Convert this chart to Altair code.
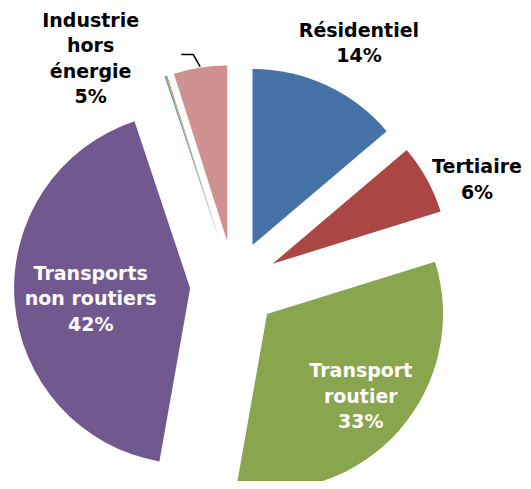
import math
import altair as alt
import pandas as pd

# ---- data ----
categories = ["Résidentiel", "Tertiaire", "Transport routier", "Transports non routiers",
              "Autre A", "Autre B", "Industrie hors énergie"]
values = [13.8, 6.4, 32.6, 42.1, 0.12, 0.10, 4.9]
labels = ["Résidentiel\n14%", "Tertiaire\n6%", "Transport\nroutier\n33%",
          "Transports\nnon routiers\n42%", "", "", "Industrie\nhors\nénergie\n5%"]
colors = ["#4572A7", "#AA4643", "#89A54E", "#71588F", "#3D96AE", "#DB843D", "#D09290"]

# ---- style ----
label_colors = ["black", "black", "white", "white", "black", "black", "black"]
label_radius = [228, 221, 125, 100, 0, 0, 228]
label_shift_deg = [3, 6.5, 0, -2, 0, 0, -28]
W, H = 515, 473
CX, CY = 226, 277      # pie centre inside the plot area (pixels)
EXPLODE = 44
R = 176
LH = 25.5

total = sum(values)
rows = []
cum = 0.0
for cat, v, lab, lc, lr, ls in zip(categories, values, labels, label_colors,
                                    label_radius, label_shift_deg):
    start, end = cum, cum + v
    cum = end
    mid = (start + end) / 2 / total * 2 * math.pi
    ax = EXPLODE * math.sin(mid)
    ay = EXPLODE * math.cos(mid)
    la = mid + math.radians(ls)
    n = lab.count("\n") + 1
    rows.append(dict(category=cat, value=v, start=start, end=end, ax=ax, ay=ay,
                     lx=ax + lr * math.sin(la),
                     ly=ay + lr * math.cos(la) + (n - 1) * LH / 2,
                     label=lab, tcolor=lc, mid=mid))
df = pd.DataFrame(rows)

# leader line drawn to the "Industrie hors énergie" slice
p = df[df.category == "Industrie hors énergie"].iloc[0]
e1 = (p.ax + (R + 1) * math.sin(p.mid), p.ay + (R + 1) * math.cos(p.mid))
e2 = (p.ax + (R + 14) * math.sin(p.mid - math.radians(1.5)),
      p.ay + (R + 14) * math.cos(p.mid - math.radians(1.5)))
e3 = (e2[0] - 12, e2[1])
leader = pd.DataFrame({"x": [e1[0], e2[0], e3[0]], "y": [e1[1], e2[1], e3[1]], "o": [0, 1, 2]})

xs = alt.Scale(domain=[-CX, W - CX], nice=False, zero=False)
ys = alt.Scale(domain=[-(H - CY), CY], nice=False, zero=False)

arcs = alt.Chart(df).mark_arc(radius=R).encode(
    x=alt.X("ax:Q", scale=xs, axis=None),
    y=alt.Y("ay:Q", scale=ys, axis=None),
    theta=alt.Theta("start:Q", stack=None,
                    scale=alt.Scale(domain=[0, total], range=[0, 2 * math.pi])),
    theta2="end:Q",
    color=alt.Color("category:N", scale=alt.Scale(domain=categories, range=colors), legend=None),
)

text = alt.Chart(df).mark_text(fontSize=19, fontWeight="bold", font="DejaVu Sans",
                               lineHeight=LH, align="center", baseline="middle",
                               lineBreak="\n").encode(
    x=alt.X("lx:Q", scale=xs, axis=None),
    y=alt.Y("ly:Q", scale=ys, axis=None),
    text="label:N",
    color=alt.Color("tcolor:N", scale=None),
)

line = alt.Chart(leader).mark_line(color="black", strokeWidth=1.5).encode(
    x=alt.X("x:Q", scale=xs, axis=None),
    y=alt.Y("y:Q", scale=ys, axis=None),
    order="o:Q",
)

chart = alt.layer(arcs, line, text).properties(
    width=W, height=H, padding=0, autosize=alt.AutoSizeParams(type="none")
).configure_view(stroke=None)

chart.save("out.html", embed_options={"renderer": "svg", "actions": False})
